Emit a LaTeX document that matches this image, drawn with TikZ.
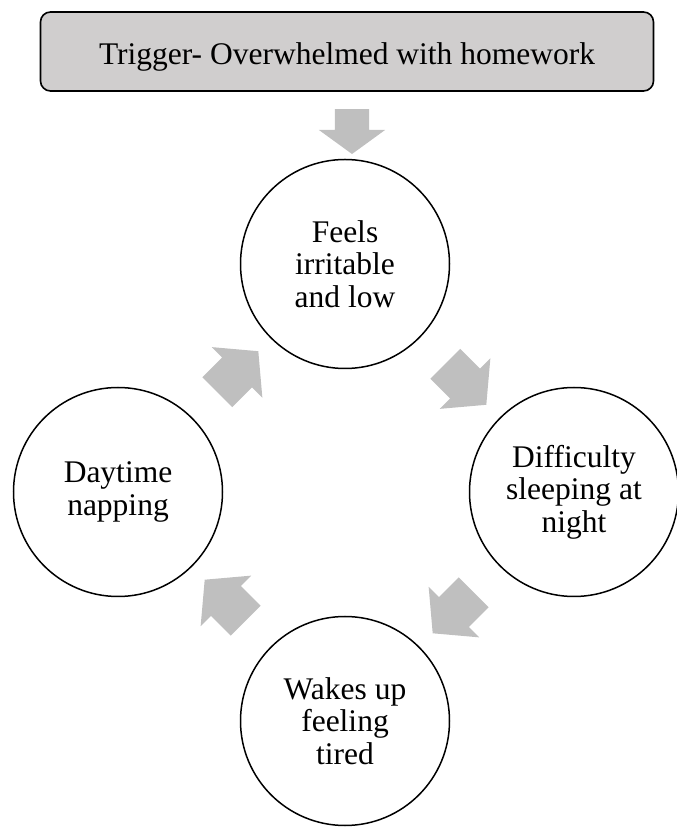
\documentclass[tikz,border=0pt]{standalone}
\usepackage{fontspec}
\setmainfont{Liberation Serif}
\usetikzlibrary{shapes.arrows,calc}
\definecolor{boxgray}{HTML}{D0CECE}
\definecolor{arrowgray}{HTML}{BFBFBF}

\begin{document}
\begin{tikzpicture}[x=1pt,y=1pt,
  stage/.style={circle,draw,line width=1.5pt,minimum size=209pt,inner sep=0pt,
    align=center,font=\fontsize{31.5pt}{32.5pt}\selectfont},
  cyclearrow/.style={single arrow,fill=arrowgray,inner xsep=0pt,inner ysep=21pt,
    minimum height=58pt,single arrow head extend=14.5pt,single arrow tip angle=100}]
\useasboundingbox (0,0) rectangle (677,827);

\node[draw,line width=1.6pt,fill=boxgray,rounded corners=10pt,
  minimum width=613pt,minimum height=79pt,text height=26pt,text depth=0pt,
  font=\fontsize{31.5pt}{32.5pt}\selectfont]
  (trigger) at (347,775.5) {Trigger- Overwhelmed with homework};

\node[stage] (feels) at (345,563) {Feels\\irritable\\and low};
\node[stage] (difficulty) at (574,335) {Difficulty\\sleeping at\\night};
\node[stage] (wakes) at (345,106) {Wakes up\\feeling\\tired};
\node[stage] (daytime) at (118,335) {Daytime\\napping};

% block arrows between the stages
\node[cyclearrow,rotate=-90,minimum height=45pt,inner ysep=17pt,
  single arrow head extend=16pt,single arrow tip angle=108]
  (downarrow) at ($(trigger.south)!0.5!(feels.north)+(6,0)$) {};
\node[cyclearrow,rotate=-45] (arrowtr) at ($(feels)!0.5!(difficulty)$) {};
\node[cyclearrow,rotate=-135] (arrowbr) at ($(difficulty)!0.5!(wakes)$) {};
\node[cyclearrow,rotate=135] (arrowbl) at ($(wakes)!0.5!(daytime)$) {};
\node[cyclearrow,rotate=45] (arrowtl) at ($(daytime)!0.5!(feels)$) {};
\end{tikzpicture}
\end{document}
